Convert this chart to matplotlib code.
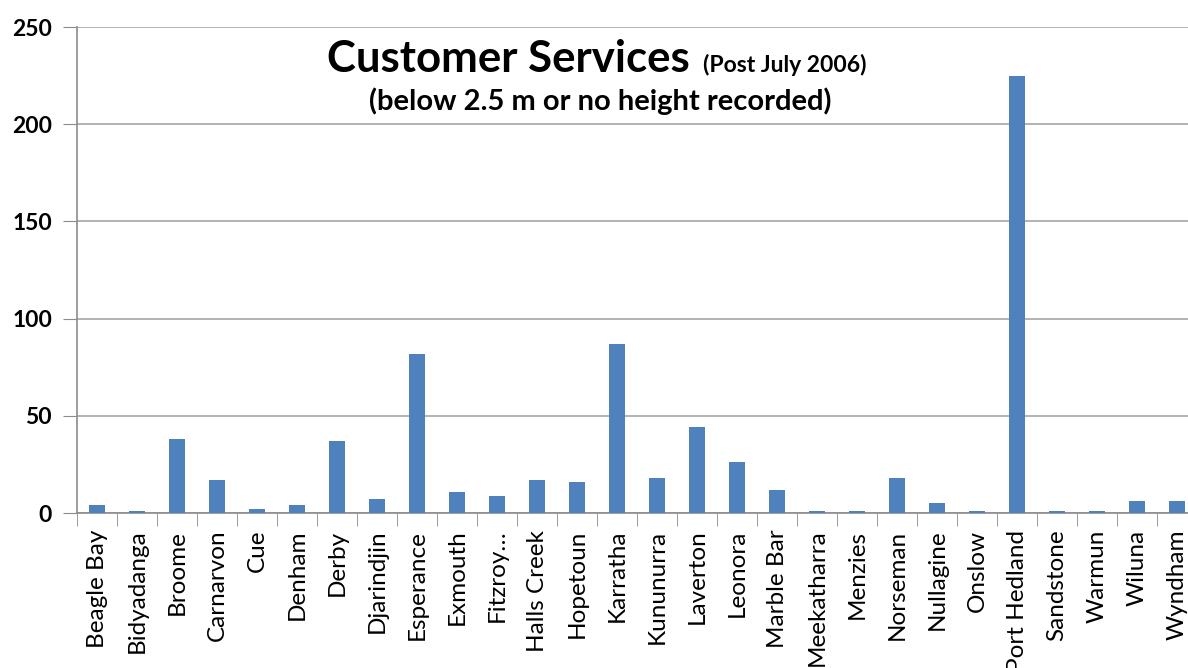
import numpy as np
import matplotlib
matplotlib.use("Agg")
import matplotlib.pyplot as plt

# Data
towns = ["Beagle Bay", "Bidyadanga", "Broome", "Carnarvon", "Cue", "Denham", "Derby",
         "Djarindjin", "Esperance", "Exmouth", "Fitzroy…", "Halls Creek", "Hopetoun",
         "Karratha", "Kununurra", "Laverton", "Leonora", "Marble Bar", "Meekatharra",
         "Menzies", "Norseman", "Nullagine", "Onslow", "Port Hedland", "Sandstone",
         "Warmun", "Wiluna", "Wyndham"]
services = [4, 1, 38, 17, 2, 4, 37, 7, 82, 11, 9, 17, 16, 87, 18, 44, 26, 12, 1, 1,
            18, 5, 1, 225, 1, 1, 6, 6]
y_ticks = [0, 50, 100, 150, 200, 250]

plt.rcParams['font.family'] = ['Lato', 'DejaVu Sans']

W, H = 1188, 668
fig = plt.figure(figsize=(W / 100, H / 100), dpi=100)
# axes runs a little past the right edge, as in the original crop
ax = fig.add_axes([77 / W, (H - 513) / H, 1120 / W, (513 - 27) / H])

x = np.arange(len(towns))
ax.bar(x, services, width=0.4, color="#4F81BD", zorder=3)

ax.set_xlim(-0.5, len(towns) - 0.5)
ax.set_ylim(0, 250)
ax.set_yticks(y_ticks)
ax.set_yticklabels([str(v) for v in y_ticks], fontsize=16.5, fontweight="bold")
ax.yaxis.grid(True, color="#A6A6A6", linewidth=1.2, zorder=0)

ax.set_xticks(x)
ax.set_xticklabels(towns, rotation=90, fontsize=17.5)
ax.set_xticks(np.arange(len(towns) + 1) - 0.5, minor=True)
ax.tick_params(axis="x", which="major", length=0, pad=12)
ax.tick_params(axis="x", which="minor", length=9, color="#8C8C8C", direction="out")
ax.tick_params(axis="y", length=10, color="#8C8C8C", direction="out", pad=8)

for side in ["top", "right"]:
    ax.spines[side].set_visible(False)
for side in ["left", "bottom"]:
    ax.spines[side].set_color("#8C8C8C")
    ax.spines[side].set_linewidth(1.2)

# title pieces
fig.text(690 / W, (H - 72) / H, "Customer Services", fontsize=31.5, fontweight="bold",
         ha="right", va="baseline")
fig.text(703 / W, (H - 72) / H, "(Post July 2006)", fontsize=16.5, fontweight="bold",
         ha="left", va="baseline")
fig.text(600 / W, (H - 110) / H, "(below 2.5 m or no height recorded)", fontsize=21,
         fontweight="bold", ha="center", va="baseline")

fig.savefig("out.png", dpi=100)
